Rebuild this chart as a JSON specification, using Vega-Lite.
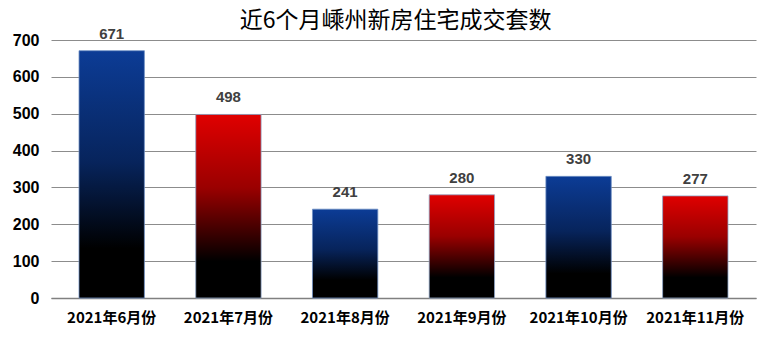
{
  "$schema": "https://vega.github.io/schema/vega-lite/v6.json",
  "width": 761,
  "height": 364,
  "autosize": {"type": "fit", "contains": "padding"},
  "padding": {"left": 12, "top": 14, "right": 5, "bottom": 39},
  "background": "white",
  "title": {
    "text": "近6个月嵊州新房住宅成交套数",
    "font": "Noto Sans CJK SC",
    "fontSize": 23,
    "fontWeight": "normal",
    "color": "#000000",
    "anchor": "middle",
    "dx": -8,
    "offset": -6
  },
  "data": {
    "values": [
      {"month": "2021年6月份", "value": 671, "tone": "blue"},
      {"month": "2021年7月份", "value": 498, "tone": "red"},
      {"month": "2021年8月份", "value": 241, "tone": "blue"},
      {"month": "2021年9月份", "value": 280, "tone": "red"},
      {"month": "2021年10月份", "value": 330, "tone": "blue"},
      {"month": "2021年11月份", "value": 277, "tone": "red"}
    ]
  },
  "encoding": {
    "x": {
      "field": "month",
      "type": "ordinal",
      "sort": ["2021年6月份", "2021年7月份", "2021年8月份", "2021年9月份", "2021年10月份", "2021年11月份"],
      "scale": {"paddingInner": 0.44, "paddingOuter": 0.24},
      "axis": {
        "title": null,
        "labelAngle": 0,
        "labelFont": "Noto Sans CJK SC",
        "labelFontSize": 15,
        "labelFontWeight": "bold",
        "labelColor": "#000000",
        "labelPadding": 12,
        "ticks": false,
        "domainColor": "#808080",
        "domainWidth": 1.5
      }
    },
    "y": {
      "field": "value",
      "type": "quantitative",
      "scale": {"domain": [0, 700]},
      "axis": {
        "title": null,
        "values": [0, 100, 200, 300, 400, 500, 600, 700],
        "labelFont": "Liberation Sans",
        "labelFontSize": 16,
        "labelFontWeight": "bold",
        "labelColor": "#000000",
        "labelPadding": 12,
        "ticks": false,
        "domain": false,
        "grid": true,
        "gridColor": "#8c8c8c",
        "gridWidth": 1
      }
    }
  },
  "layer": [
    {
      "transform": [{"filter": "datum.tone === 'blue'"}],
      "mark": {
        "type": "bar",
        "stroke": "#6f8fc4",
        "strokeWidth": 0.8,
        "color": {
          "gradient": "linear",
          "x1": 0, "y1": 0, "x2": 0, "y2": 1,
          "stops": [
            {"offset": 0, "color": "#0c3c96"},
            {"offset": 0.45, "color": "#07245c"},
            {"offset": 0.8, "color": "#000000"},
            {"offset": 1, "color": "#000000"}
          ]
        }
      }
    },
    {
      "transform": [{"filter": "datum.tone === 'red'"}],
      "mark": {
        "type": "bar",
        "stroke": "#8fa6c8",
        "strokeWidth": 0.8,
        "color": {
          "gradient": "linear",
          "x1": 0, "y1": 0, "x2": 0, "y2": 1,
          "stops": [
            {"offset": 0, "color": "#e00000"},
            {"offset": 0.4, "color": "#9a0000"},
            {"offset": 0.8, "color": "#000000"},
            {"offset": 1, "color": "#000000"}
          ]
        }
      }
    },
    {
      "mark": {
        "type": "text",
        "baseline": "bottom",
        "dy": -9,
        "font": "Liberation Sans",
        "fontSize": 15,
        "fontWeight": "bold",
        "color": "#404040"
      },
      "encoding": {
        "text": {"field": "value", "type": "quantitative"}
      }
    }
  ],
  "config": {
    "view": {"stroke": null}
  }
}
